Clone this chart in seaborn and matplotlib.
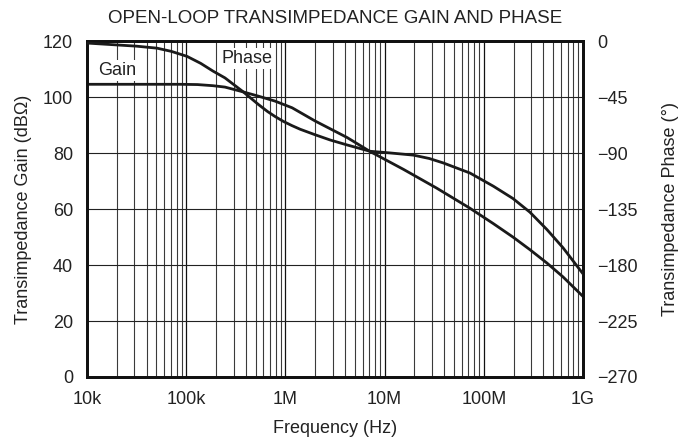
import numpy as np
import pandas as pd
import matplotlib
matplotlib.use("Agg")
import matplotlib.pyplot as plt
import seaborn as sns
from matplotlib.ticker import FixedLocator, NullFormatter, FixedFormatter

# ---- data ----
gain_freq_hz = [1.0e4, 3.16e4, 8.7e4, 1.3e5, 1.86e5, 2.46e5, 3.74e5, 5.3e5, 7.85e5,
                1.17e6, 1.99e6, 4.18e6, 7.13e6, 1.55e7, 3.35e7, 7.26e7,
                1.25e8, 1.97e8, 2.92e8, 4.34e8, 6.28e8, 1.0e9]
gain_db = [104.6, 104.6, 104.6, 104.5, 104.1, 103.6, 101.9, 100.4, 98.6,
           96.2, 91.5, 85.6, 80.6, 74.2, 67.5, 60.3,
           54.8, 50.0, 45.5, 40.7, 35.8, 28.8]

phase_freq_hz = [1.0e4, 3.16e4, 5.08e4, 7.1e4, 1.02e5, 1.4e5, 1.86e5, 2.46e5, 3.77e5,
                 5.33e5, 6.6e5, 7.85e5, 9.55e5, 1.16e6, 1.41e6, 1.99e6, 2.82e6,
                 4.18e6, 7.13e6, 1.12e7, 1.95e7, 2.82e7, 3.91e7, 7.26e7,
                 1.25e8, 1.97e8, 2.92e8, 4.34e8, 6.28e8, 1.0e9]
phase_deg = [-1.5, -4.0, -5.6, -8.2, -12.2, -17.8, -24.0, -29.5, -40.8,
             -50.8, -56.5, -60.5, -64.5, -67.8, -70.8, -75.2, -79.4,
             -83.4, -88.5, -89.8, -91.6, -94.3, -97.9, -106.0,
             -116.6, -126.5, -137.5, -151.5, -166.0, -187.0]

x_ticks = [1e4, 1e5, 1e6, 1e7, 1e8, 1e9]
x_tick_labels = ["10k", "100k", "1M", "10M", "100M", "1G"]
gain_ticks = [0, 20, 40, 60, 80, 100, 120]
phase_ticks = [0, -45, -90, -135, -180, -225, -270]

title = "OPEN-LOOP TRANSIMPEDANCE GAIN AND PHASE"

sns.set_style("white")
plt.rcParams["font.family"] = ["Liberation Sans", "DejaVu Sans"]
plt.rcParams["axes.unicode_minus"] = True

fig = plt.figure(figsize=(6.86, 4.43), dpi=100)
ax = fig.add_axes([0.1268, 0.149, 0.723, 0.758])

gdf = pd.DataFrame({"f": gain_freq_hz, "v": gain_db})
pdf = pd.DataFrame({"f": phase_freq_hz, "v": phase_deg})

fs = 13
txt = "#222222"
ax.set_xscale("log")
ax.set_xlim(1e4, 1e9)
ax.set_ylim(0, 120)

# grid
minor = [m * 10 ** e for e in range(4, 9) for m in range(2, 10)]
for xv in minor:
    ax.axvline(xv, color="#3a3a3a", lw=0.8, zorder=1)
for xv in x_ticks:
    ax.axvline(xv, color="#111111", lw=0.9, zorder=1)
for yv in gain_ticks:
    ax.axhline(yv, color="#222222", lw=0.8, zorder=1)

sns.lineplot(data=gdf, x="f", y="v", ax=ax, color="#1a1a1a", lw=2.0, zorder=3)

ax2 = ax.twinx()
sns.lineplot(data=pdf, x="f", y="v", ax=ax2, color="#1a1a1a", lw=2.0, zorder=3)
ax2.set_ylim(-270, 0)
ax2.set_yticks(phase_ticks)
ax2.tick_params(axis="y", length=0, labelsize=fs, colors=txt, pad=10)
ax2.set_ylabel("Transimpedance Phase (°)", fontsize=fs, color=txt, labelpad=18)
ax2.set_xlabel("")

ax.set_xlim(1e4, 1e9)
ax.xaxis.set_major_locator(FixedLocator(x_ticks))
ax.xaxis.set_major_formatter(FixedFormatter(x_tick_labels))
ax.xaxis.set_minor_locator(FixedLocator(minor))
ax.xaxis.set_minor_formatter(NullFormatter())
ax.set_yticks(gain_ticks)
ax.tick_params(axis="both", which="both", length=0, labelsize=fs, colors=txt)
ax.tick_params(axis="x", pad=10)
ax.tick_params(axis="y", pad=10)
ax.set_xlabel("Frequency (Hz)", fontsize=fs, color=txt, labelpad=9)
ax.set_ylabel("Transimpedance Gain (dBΩ)", fontsize=fs, color=txt, labelpad=8)
ax.set_title(title, fontsize=13.5, color=txt, pad=13)

for a in (ax, ax2):
    for s in a.spines.values():
        s.set_visible(True)
        s.set_color("#111111")
        s.set_linewidth(2.0)

bbox = dict(facecolor="white", edgecolor="none", pad=1.5)
ax.text(2.0e4, 109.6, "Gain", fontsize=fs, ha="center", va="center",
        color=txt, bbox=bbox, zorder=5)
ax.text(4.1e5, 113.9, "Phase", fontsize=fs, ha="center", va="center",
        color=txt, bbox=bbox, zorder=5)

fig.savefig("out.png", dpi=100)
